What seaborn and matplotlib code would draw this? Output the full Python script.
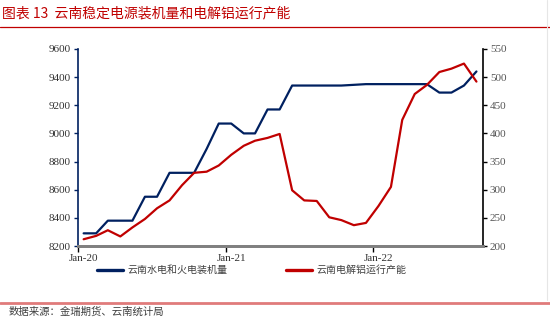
import numpy as np
import pandas as pd
import matplotlib
matplotlib.use("Agg")
import matplotlib.pyplot as plt
import matplotlib.dates as mdates
from matplotlib.lines import Line2D
import seaborn as sns

# Monthly series, Jan-2020 .. Sep-2022
months = pd.date_range("2020-01-01", "2022-09-01", freq="MS")
# Yunnan hydro + thermal installed capacity (left axis)
capacity = [8290, 8290, 8380, 8380, 8380, 8550, 8550, 8720, 8720, 8720, 8890,
            9070, 9070, 9000, 9000, 9170, 9170, 9340, 9340, 9340, 9340, 9340,
            9345, 9350, 9350, 9350, 9350, 9350, 9350, 9290, 9290, 9340, 9440]
# Yunnan electrolytic aluminium operating capacity (right axis)
smelting = [212, 218, 228, 217, 233, 248, 267, 281, 308, 330, 332, 343, 362,
            378, 387, 392, 399, 299, 281, 280, 251, 246, 237, 241, 271, 305,
            424, 470, 486, 509, 515, 524, 492]
left_ticks = [8200, 8400, 8600, 8800, 9000, 9200, 9400, 9600]
right_ticks = [200, 250, 300, 350, 400, 450, 500, 550]
year_ticks = ["2020-01-01", "2021-01-01", "2022-01-01"]

title = "图表 13  云南稳定电源装机量和电解铝运行产能"
series_names = ["云南水电和火电装机量", "云南电解铝运行产能"]
source = "数据来源：金瑞期货、云南统计局"

BLUE = "#002060"
RED = "#c00000"

sns.set_theme(style="white")
plt.rcParams["font.family"] = ["Noto Sans CJK SC", "DejaVu Sans"]
SERIF = ["Liberation Serif", "DejaVu Serif"]

df = pd.DataFrame({
    "month": months + pd.Timedelta(days=14),
    "capacity": capacity,
    "smelting": smelting,
})

fig, ax = plt.subplots(figsize=(5.5, 3.22), dpi=100)
fig.subplots_adjust(left=0.1418, right=0.878, bottom=0.236, top=0.848)

sns.lineplot(data=df, x="month", y="capacity", ax=ax, color=BLUE,
             linewidth=1.6, legend=False)
ax2 = ax.twinx()
sns.lineplot(data=df, x="month", y="smelting", ax=ax2, color=RED,
             linewidth=1.6, legend=False)

ax.set_xlim(pd.Timestamp("2020-01-01"), pd.Timestamp("2022-10-01"))
ax.set_ylim(left_ticks[0], left_ticks[-1])
ax2.set_ylim(right_ticks[0], right_ticks[-1])
ax.set_yticks(left_ticks)
ax2.set_yticks(right_ticks)
ax.set_xlabel("")
ax.set_ylabel("")
ax2.set_ylabel("")

# Year ticks on Jan 1, labels centred on the January point
ax.set_xticks(pd.to_datetime(year_ticks))
ax.set_xticklabels([])
ax.set_xticks(pd.to_datetime(year_ticks) + pd.Timedelta(days=14), minor=True)
ax.xaxis.set_minor_formatter(mdates.DateFormatter("%b-%y"))
ax.tick_params(axis="x", which="major", direction="out", length=4, width=1,
               color="black", bottom=True)
ax.tick_params(axis="x", which="minor", length=0, pad=6, labelsize=8,
               labelcolor="#333333", bottom=True)
ax.tick_params(axis="y", direction="out", length=3, width=1, color=BLUE,
               left=True, pad=2, labelsize=8, labelcolor="#333333")
ax2.tick_params(axis="y", direction="out", length=3, width=1, color="black",
                right=True, pad=2, labelsize=8, labelcolor="#555555")
for lab in ax.get_yticklabels() + ax2.get_yticklabels() + ax.get_xticklabels(minor=True):
    lab.set_family(SERIF)

for a in (ax, ax2):
    a.spines["top"].set_visible(False)
    a.spines["bottom"].set_color("#808080")
    a.spines["bottom"].set_linewidth(2)
    a.grid(False)
ax2.spines["left"].set_visible(False)
ax.spines["right"].set_visible(False)
ax.spines["left"].set_color(BLUE)
ax.spines["left"].set_linewidth(1.2)
ax2.spines["right"].set_color("black")
ax2.spines["right"].set_linewidth(1.2)

handles = [Line2D([], [], color=BLUE, linewidth=2.4),
           Line2D([], [], color=RED, linewidth=2.4)]
fig.legend(handles, series_names, loc="center", bbox_to_anchor=(0.458, 0.161),
           ncol=2, frameon=False, fontsize=7.2, handlelength=2.6,
           handletextpad=0.45, columnspacing=5.8, labelcolor="#404040")

# Header, rules and footer
fig.text(0.004, 0.958, title, color=RED, fontsize=10, ha="left", va="center")
fig.add_artist(Line2D([0, 1], [1 - 26.5 / 322] * 2, color=RED, linewidth=0.9))
fig.add_artist(Line2D([0, 1], [1 - 303 / 322] * 2, color="#e07b7b", linewidth=2))
fig.add_artist(Line2D([547 / 550] * 2, [1 - 300 / 322, 1], color="#e6e6e6",
                      linewidth=0.8))
fig.text(0.015, 1 - 312 / 322, source, color="#404040", fontsize=7.5,
         style="italic", ha="left", va="center")

fig.savefig("out.png", dpi=100)
